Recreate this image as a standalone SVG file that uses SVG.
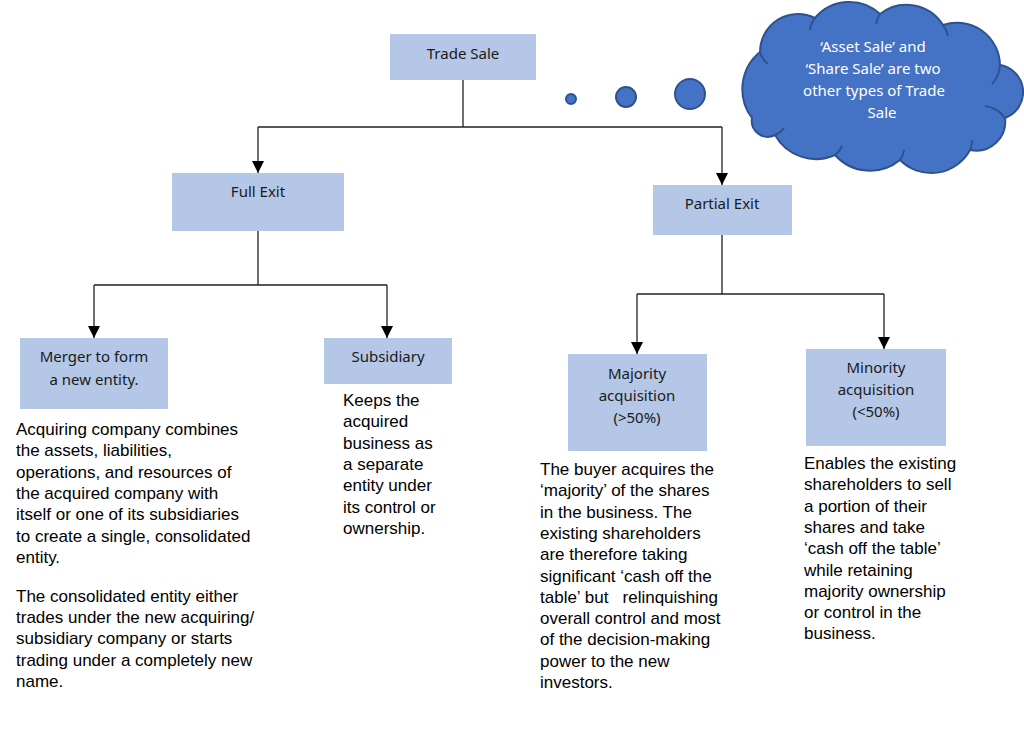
<svg xmlns="http://www.w3.org/2000/svg" width="1024" height="732" viewBox="0 0 1024 732">
<style>
.box{fill:#B4C7E7;}
.lbl{font-family:"Noto Sans","Open Sans",sans-serif;font-size:15px;fill:#1a1a1a;text-anchor:middle;}
.body{font-family:"Liberation Sans",Arial,sans-serif;font-size:17px;fill:#000;}
.conn{fill:none;stroke:#222;stroke-width:1.3;}
.bubble{fill:#4472C4;stroke:#2F528F;stroke-width:2;}
.curl{fill:none;stroke:#2F528F;stroke-width:2;}
.ctext{font-family:"Noto Sans","Open Sans",sans-serif;font-size:15px;fill:#fff;text-anchor:middle;}
</style>
<defs>
<marker id="arr" markerWidth="12" markerHeight="14" refX="6" refY="12" orient="0" markerUnits="userSpaceOnUse">
<path d="M0,0 L12,0 L6,12 Z" fill="#000"/>
</marker>
</defs>
<rect width="1024" height="732" fill="#fff"/>

<g id="connectors">
<path class="conn" d="M463,80 V127 M258,127 H722"/>
<path class="conn" d="M258,127 V173" marker-end="url(#arr)"/>
<path class="conn" d="M722,127 V185" marker-end="url(#arr)"/>
<path class="conn" d="M258,231 V285 M94,285 H387"/>
<path class="conn" d="M94,285 V338" marker-end="url(#arr)"/>
<path class="conn" d="M387,285 V338" marker-end="url(#arr)"/>
<path class="conn" d="M722,235 V294 M637,294 H884"/>
<path class="conn" d="M637,294 V354" marker-end="url(#arr)"/>
<path class="conn" d="M884,294 V349" marker-end="url(#arr)"/>
</g>

<g id="trade-sale">
<rect class="box" x="390" y="34" width="146" height="46"/>
<text class="lbl" x="463" y="59">Trade Sale</text>
</g>

<g id="thought-bubbles">
<circle class="bubble" cx="571" cy="99" r="5"/>
<circle class="bubble" cx="626" cy="97" r="10"/>
<circle class="bubble" cx="690" cy="94" r="15"/>
</g>

<g id="cloud">
<path class="bubble" d="M752,118 A48,48 0 0 1 760,52 A38,38 0 0 1 815,18 A45,45 0 0 1 880,14 A43,43 0 0 1 943,25 A43,43 0 0 1 1000,65 A27.5,27.5 0 0 1 1005,118 A29,29 0 0 1 970,150 A44,44 0 0 1 900,160 A47,47 0 0 1 835,155 A47,47 0 0 1 775,135 A16,16 0 0 1 752,118 Z"/>
<path class="curl" d="M760,52 A20,20 0 0 0 768,64 M815,18 A25,25 0 0 0 810,30 M880,14 A25,25 0 0 0 876,24 M943,25 A25,25 0 0 1 948,36 M1000,65 A30,30 0 0 1 992,84 M1005,118 A30,30 0 0 0 985,106 M970,150 A25,25 0 0 0 972,140 M900,160 A25,25 0 0 0 904,150 M835,155 A25,25 0 0 0 842,146 M775,135 A20,20 0 0 0 784,128"/>
<text class="ctext" x="873" y="52">‘Asset Sale’ and</text>
<text class="ctext" x="873" y="74">‘Share Sale’ are two</text>
<text class="ctext" x="874" y="96">other types of Trade</text>
<text class="ctext" x="882" y="118">Sale</text>
</g>

<g id="full-exit">
<rect class="box" x="172" y="173" width="172" height="58"/>
<text class="lbl" x="258" y="197">Full Exit</text>
</g>

<g id="partial-exit">
<rect class="box" x="653" y="185" width="139" height="50"/>
<text class="lbl" x="722" y="209">Partial Exit</text>
</g>

<g id="merger">
<rect class="box" x="20" y="338" width="148" height="71"/>
<text class="lbl" x="94" y="362">Merger to form</text>
<text class="lbl" x="94" y="385">a new entity.</text>
<text class="body" x="16" y="435">Acquiring company combines</text>
<text class="body" x="16" y="456.3">the assets, liabilities,</text>
<text class="body" x="16" y="477.6">operations, and resources of</text>
<text class="body" x="16" y="498.9">the acquired company with</text>
<text class="body" x="16" y="520.2">itself or one of its subsidiaries</text>
<text class="body" x="16" y="541.5">to create a single, consolidated</text>
<text class="body" x="16" y="562.8">entity.</text>
<text class="body" x="16" y="602">The consolidated entity either</text>
<text class="body" x="16" y="623.2">trades under the new acquiring/</text>
<text class="body" x="16" y="644.4">subsidiary company or starts</text>
<text class="body" x="16" y="665.6">trading under a completely new</text>
<text class="body" x="16" y="686.8">name.</text>
</g>

<g id="subsidiary">
<rect class="box" x="324" y="338" width="128" height="46"/>
<text class="lbl" x="388" y="362">Subsidiary</text>
<text class="body" x="343" y="406">Keeps the</text>
<text class="body" x="343" y="427.3">acquired</text>
<text class="body" x="343" y="448.6">business as</text>
<text class="body" x="343" y="469.9">a separate</text>
<text class="body" x="343" y="491.2">entity under</text>
<text class="body" x="343" y="512.5">its control or</text>
<text class="body" x="343" y="533.8">ownership.</text>
</g>

<g id="majority">
<rect class="box" x="568" y="354" width="139" height="97"/>
<text class="lbl" x="637" y="379">Majority</text>
<text class="lbl" x="637" y="401">acquisition</text>
<text class="lbl" x="637" y="423">(&gt;50%)</text>
<text class="body" x="540" y="475">The buyer acquires the</text>
<text class="body" x="540" y="496.3">‘majority’ of the shares</text>
<text class="body" x="540" y="517.6">in the business. The</text>
<text class="body" x="540" y="538.9">existing shareholders</text>
<text class="body" x="540" y="560.2">are therefore taking</text>
<text class="body" x="540" y="581.5">significant ‘cash off the</text>
<text class="body" x="540" y="602.8" xml:space="preserve">table’ but   relinquishing</text>
<text class="body" x="540" y="624.1">overall control and most</text>
<text class="body" x="540" y="645.4">of the decision-making</text>
<text class="body" x="540" y="666.7">power to the new</text>
<text class="body" x="540" y="688">investors.</text>
</g>

<g id="minority">
<rect class="box" x="806" y="349" width="140" height="97"/>
<text class="lbl" x="876" y="373">Minority</text>
<text class="lbl" x="876" y="395">acquisition</text>
<text class="lbl" x="876" y="417">(&lt;50%)</text>
<text class="body" x="804" y="469">Enables the existing</text>
<text class="body" x="804" y="490.3">shareholders to sell</text>
<text class="body" x="804" y="511.6">a portion of their</text>
<text class="body" x="804" y="532.9">shares and take</text>
<text class="body" x="804" y="554.2">‘cash off the table’</text>
<text class="body" x="804" y="575.5">while retaining</text>
<text class="body" x="804" y="596.8">majority ownership</text>
<text class="body" x="804" y="618.1">or control in the</text>
<text class="body" x="804" y="639.4">business.</text>
</g>
</svg>
